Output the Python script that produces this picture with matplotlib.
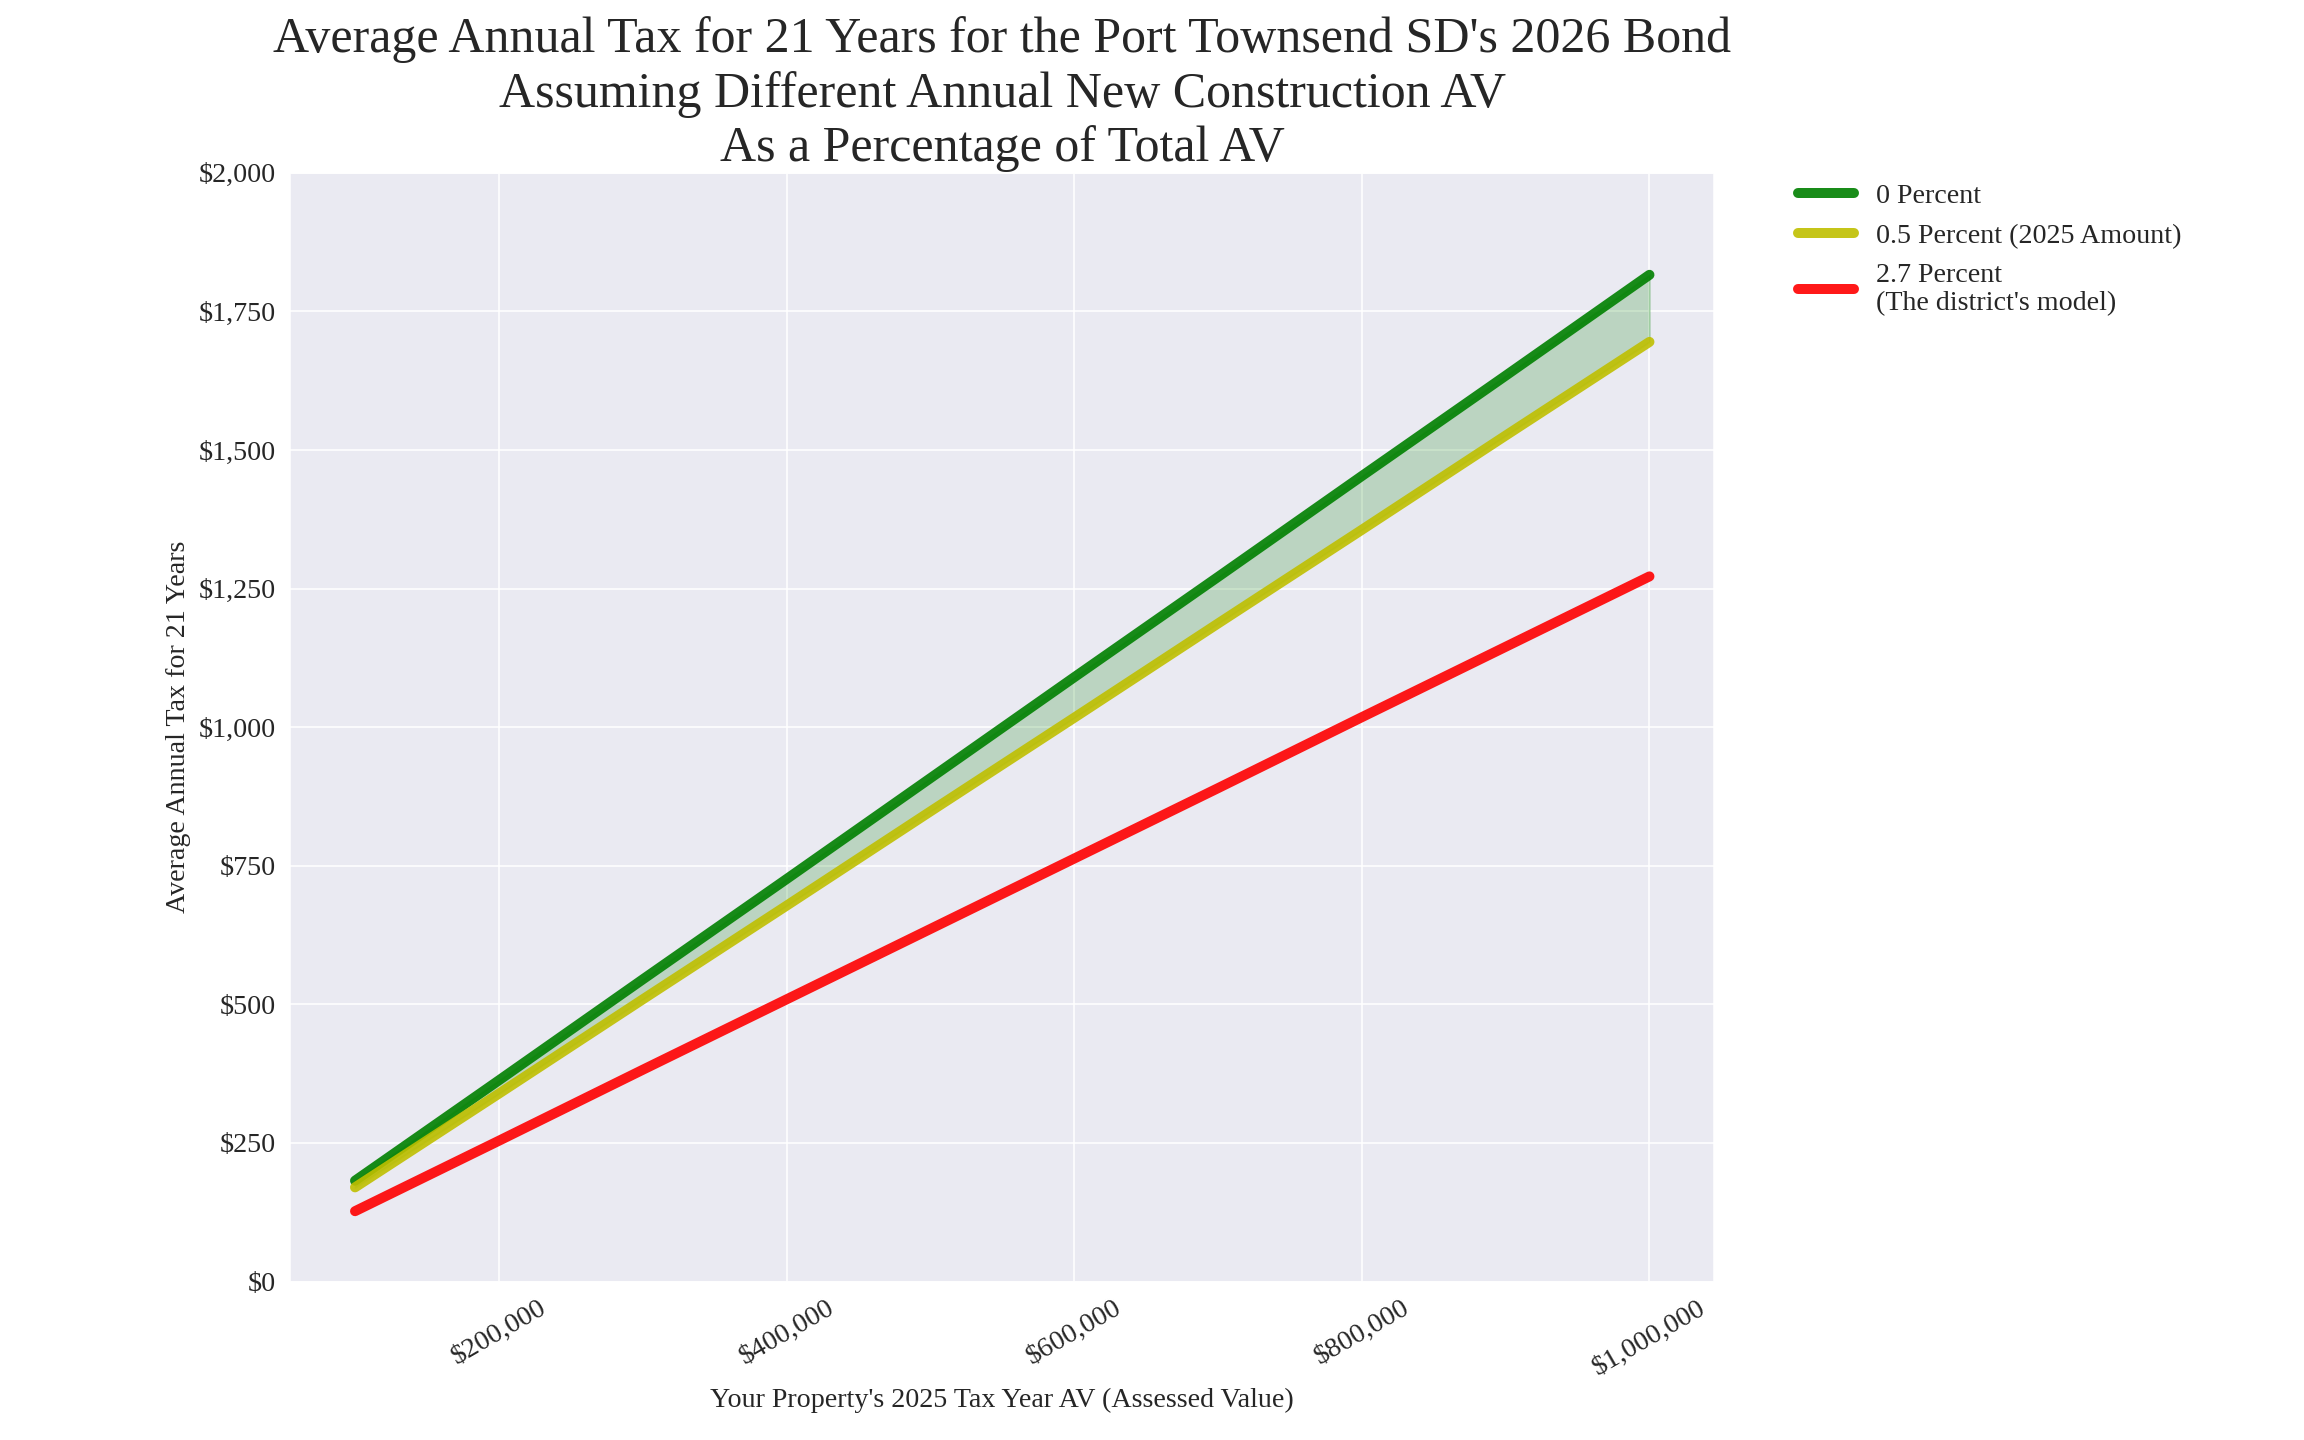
import numpy as np
import matplotlib.pyplot as plt
import matplotlib.ticker as mticker
import seaborn as sns

sns.set_style("darkgrid")
plt.rcParams['font.family'] = ['Liberation Serif', 'DejaVu Serif']

# assessed values
av = [100000, 200000, 300000, 400000, 500000, 600000, 700000, 800000, 900000, 1000000]

# average annual tax for 21 years, by new construction growth assumption
tax_0_pct = [182, 363, 545, 726, 908, 1090, 1271, 1453, 1634, 1816]
tax_05_pct = [170, 339, 509, 678, 848, 1017, 1187, 1356, 1526, 1695]
tax_27_pct = [127, 254, 382, 509, 636, 763, 890, 1018, 1145, 1272]

labels = ["0 Percent", "0.5 Percent (2025 Amount)", "2.7 Percent\n(The district's model)"]

fig = plt.figure(figsize=(16, 10), dpi=144)
ax = fig.add_subplot(111)
fig.subplots_adjust(left=0.126, right=0.744, bottom=0.11, top=0.88)

ax.plot(av, tax_0_pct, color='g', alpha=0.9, linewidth=5, label=labels[0])
ax.plot(av, tax_05_pct, color='y', alpha=0.9, linewidth=5, label=labels[1])
ax.plot(av, tax_27_pct, color='r', alpha=0.9, linewidth=5, label=labels[2])
ax.fill_between(av, tax_05_pct, tax_0_pct, color='g', alpha=0.2)

ax.set_ylim(0, 2000)
ax.yaxis.set_major_locator(mticker.MultipleLocator(250))
ax.yaxis.set_major_formatter(mticker.StrMethodFormatter('${x:,.0f}'))
ax.xaxis.set_major_formatter(mticker.StrMethodFormatter('${x:,.0f}'))
plt.xticks(rotation=30, fontsize=14)
plt.yticks(fontsize=14)

ax.set_xlabel("Your Property's 2025 Tax Year AV (Assessed Value)", fontsize=14)
ax.set_ylabel("Average Annual Tax for 21 Years", fontsize=14)
ax.set_title("Average Annual Tax for 21 Years for the Port Townsend SD's 2026 Bond\n"
             "Assuming Different Annual New Construction AV\n"
             "As a Percentage of Total AV", fontsize=25)
ax.legend(loc='upper left', bbox_to_anchor=(1.041, 1.013), fontsize=14,
          frameon=False, handlelength=2.0)

fig.savefig("out.png", dpi=144)
